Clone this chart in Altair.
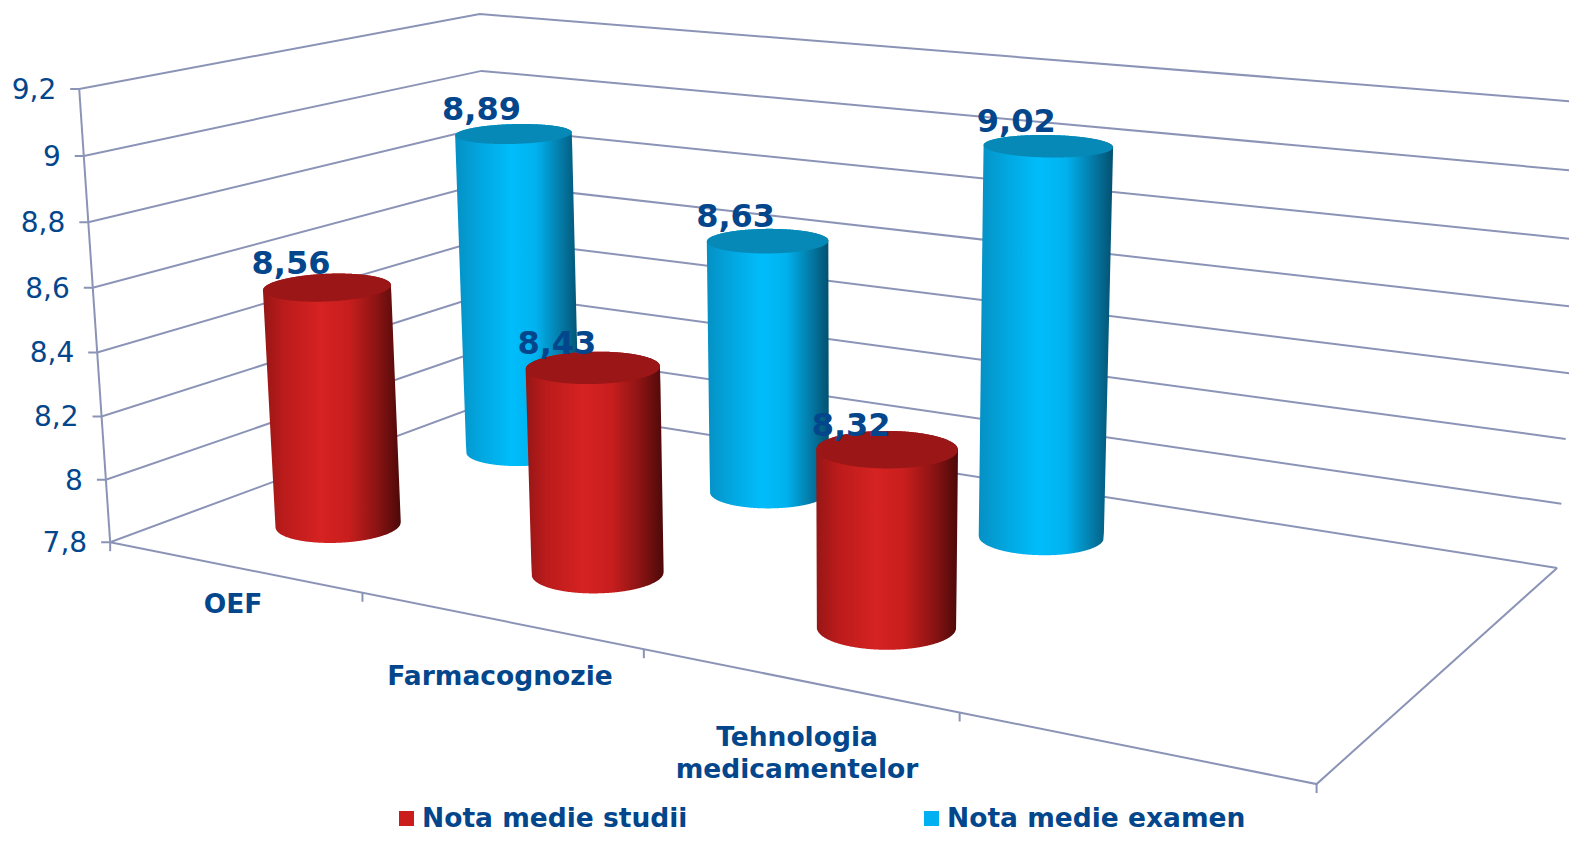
import numpy as np
import pandas as pd
import altair as alt

categories = ["OEF", "Farmacognozie", "Tehnologia medicamentelor"]
series_names = ["Nota medie studii", "Nota medie examen"]
studii = [8.56, 8.43, 8.32]
examen = [8.89, 8.63, 9.02]
y_ticks = [7.8, 8.0, 8.2, 8.4, 8.6, 8.8, 9.0, 9.2]
V0, V1 = 7.8, 9.2

# camera fitted to the box corners (category, value, depth) -> page pixels
corr = [
    ((0, V0, 0), (110, 538)), ((0, V1, 0), (80, 90)),
    ((0, V1, 1), (479, 12)), ((0, V0, 1), (493, 404)),
    ((4, V0, 1), (1557, 565)), ((4, V1, 1), (1588, 104)),
    ((4, V0, 0), (1318, 783)), ((1, V0, 0), (362, 594)),
    ((2, V0, 0), (644, 649)), ((3, V0, 0), (958, 716)),
]
A = []
for (X, Y, Z), (u, v) in corr:
    p = [X, Y - V0, Z, 1]
    A.append(p + [0, 0, 0, 0] + [-u * c for c in p])
    A.append([0, 0, 0, 0] + p + [-v * c for c in p])
P = np.linalg.svd(np.array(A, float))[2][-1].reshape(3, 4)


def proj(cat, val, depth):
    h = P @ np.array([cat, val - V0, depth, 1.0])
    return h[0] / h[2], h[1] / h[2], h[2]


W_REF = proj(1.5, V0, 0.25)[2]


def ellipse(cat, val, depth, width_k):
    cx, cy, w = proj(cat, val, depth)
    rw = width_k * W_REF / w
    ratio = 0.13 + 0.00030 * cy
    tilt = -0.04 + (cx - 325) * 0.055 / 715
    t = np.linspace(0, 2 * np.pi, 160, endpoint=False)
    ex = rw * np.cos(t)
    ey = rw * ratio * np.sin(t)
    return cx + ex, cy + ey + tilt * ex, cx, cy


def envelope(xs, ys):
    pts = sorted(set(zip(np.round(xs, 3).tolist(), np.round(ys, 3).tolist())))

    def half(points):
        out = []
        for p in points:
            while len(out) >= 2 and (out[-1][0] - out[-2][0]) * (p[1] - out[-2][1]) - (out[-1][1] - out[-2][1]) * (p[0] - out[-2][0]) <= 0:
                out.pop()
            out.append(p)
        return out

    lo = half(pts)
    hi = half(pts[::-1])[::-1]
    grid = np.linspace(pts[0][0], pts[-1][0], 220)
    y1 = np.interp(grid, [p[0] for p in lo], [p[1] for p in lo])
    y2 = np.interp(grid, [p[0] for p in hi], [p[1] for p in hi])
    return pd.DataFrame({"x": grid, "y": y1, "y2": y2})


PX = alt.Scale(domain=[8, 1569], range=[0, 1561])
PY = alt.Scale(domain=[834, 8], range=[826, 0])
xe = alt.X("x:Q", scale=PX, axis=None)
ye = alt.Y("y:Q", scale=PY, axis=None)

GRID = "#8b94b6"
INK = "#03468c"
layers = []


def segs(rows, width=2.0):
    df = pd.DataFrame(rows, columns=["id", "order", "x", "y"])
    return alt.Chart(df).mark_line(color=GRID, strokeWidth=width, clip=True).encode(
        x=xe, y=ye, detail="id:N", order="order:Q")


rows = []
k = 0
for v in y_ticks:
    a = proj(0, v, 0)
    b = proj(0, v, 1)
    c = proj(4, v, 1)
    for j, p in enumerate([(a[0] - 9, a[1]), a, b, c]):
        rows.append((k, j, p[0], p[1]))
    k += 1
for j, p in enumerate([proj(0, V0, 0), proj(0, V1, 0)]):
    rows.append((k, j, p[0], p[1]))
k += 1
for j, p in enumerate([proj(0, V0, 0), proj(4, V0, 0), proj(4, V0, 1)]):
    rows.append((k, j, p[0], p[1]))
k += 1
for c in range(0, 5):
    p = proj(c, V0, 0)
    rows.append((k, 0, p[0], p[1]))
    rows.append((k, 1, p[0], p[1] + 9))
    k += 1
layers.append(segs(rows))

RED = alt.Gradient(gradient="linear", x1=0, x2=1, y1=0, y2=0, stops=[
    alt.GradientStop(offset=0, color="#961616"),
    alt.GradientStop(offset=0.15, color="#bb1b1b"),
    alt.GradientStop(offset=0.42, color="#d62222"),
    alt.GradientStop(offset=0.62, color="#c81e1e"),
    alt.GradientStop(offset=0.82, color="#8e1414"),
    alt.GradientStop(offset=1, color="#4c0909"),
])
BLUE = alt.Gradient(gradient="linear", x1=0, x2=1, y1=0, y2=0, stops=[
    alt.GradientStop(offset=0, color="#0590c4"),
    alt.GradientStop(offset=0.2, color="#02a6df"),
    alt.GradientStop(offset=0.45, color="#00bdfb"),
    alt.GradientStop(offset=0.65, color="#00b2ee"),
    alt.GradientStop(offset=0.85, color="#047aa6"),
    alt.GradientStop(offset=1, color="#03506f"),
])
CAP = {"red": "#9b1616", "blue": "#0789b8"}

labels = []


def cylinder(cat, depth, val, grad, cap, k_width, dx):
    bx, by, _, _ = ellipse(cat, V0, depth, k_width)
    tx, ty, cx, cy = ellipse(cat, val, depth, k_width)
    body = envelope(np.r_[bx, tx], np.r_[by, ty])
    top = envelope(tx, ty)
    for frame, paint in ((body, {"fill": grad}), (top, {"fill": cap})):
        layers.append(alt.Chart(frame).mark_area(**paint).encode(
            x=xe, y=ye, y2="y2:Q"))
    labels.append({"x": cx + dx, "y": cy - 14, "t": f"{val:.2f}".replace(".", ",")})


for i, v in enumerate(examen):
    cylinder(i + 0.5, 0.75, v, BLUE, CAP["blue"], 65, -32)
for i, v in enumerate(studii):
    cylinder(i + 0.5, 0.25, v, RED, CAP["red"], 66, -36)

layers.append(alt.Chart(pd.DataFrame(labels)).mark_text(
    font="DejaVu Sans", fontWeight="bold", fontSize=32, color=INK,
    baseline="alphabetic", align="center").encode(x=xe, y=ye, text="t:N"))

tick_df = []
for v in y_ticks:
    p = proj(0, v, 0)
    tick_df.append({"x": p[0] - 23, "y": p[1] + 2, "t": f"{v:g}".replace(".", ",")})
layers.append(alt.Chart(pd.DataFrame(tick_df)).mark_text(
    font="DejaVu Sans", fontSize=28, color=INK, align="right", baseline="middle"
).encode(x=xe, y=ye, text="t:N"))

cat_rows = [
    {"x": 233, "y": 605, "t": categories[0]},
    {"x": 500, "y": 677, "t": categories[1]},
    {"x": 797, "y": 738, "t": categories[2].split(" ")[0]},
    {"x": 797, "y": 770, "t": categories[2].split(" ")[1]},
]
layers.append(alt.Chart(pd.DataFrame(cat_rows)).mark_text(
    font="DejaVu Sans", fontWeight="bold", fontSize=26.5, color=INK,
    align="center", baseline="middle").encode(x=xe, y=ye, text="t:N"))

leg = pd.DataFrame({"x": [422, 947], "y": [827, 827], "t": series_names,
                    "sx": [406.5, 931.5], "sy": [818.5, 818.5],
                    "c": ["#cc1d1d", "#00b0f0"]})
layers.append(alt.Chart(leg).mark_square(size=225, opacity=1).encode(
    x=alt.X("sx:Q", scale=PX, axis=None), y=alt.Y("sy:Q", scale=PY, axis=None),
    fill=alt.Fill("c:N", scale=None), stroke=alt.value(None)))
layers.append(alt.Chart(leg).mark_text(
    font="DejaVu Sans", fontWeight="bold", fontSize=26.5, color=INK,
    align="left", baseline="alphabetic").encode(x=xe, y=ye, text="t:N"))

chart = alt.layer(*layers).properties(
    width=1561, height=826, padding=0, autosize="none", background="white"
).configure_view(stroke=None)

chart.save("out.html", embed_options={"renderer": "svg", "actions": False})
